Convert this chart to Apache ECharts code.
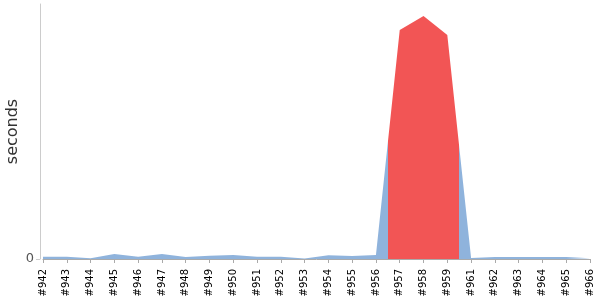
<!DOCTYPE html>
<html><head><meta charset="utf-8">
<script src="https://cdn.jsdelivr.net/npm/echarts@6/dist/echarts.min.js"></script>
<style>html,body{margin:0;padding:0;background:#fff}#c{width:600px;height:300px}</style>
</head><body><div id="c"></div>
<script>
const categories = ['#942','#943','#944','#945','#946','#947','#948','#949','#950','#951','#952','#953','#954','#955','#956','#957','#958','#959','#961','#962','#963','#964','#965','#966'];
const seconds = [0.9,0.9,0.3,2.0,0.9,2.0,0.8,1.3,1.6,0.9,0.9,0.2,1.5,1.2,1.6,89.8,95.3,87.8,0.4,0.8,0.8,0.8,0.8,0.3];
const yLabels = [0];
const highlightFrom = 14.5, highlightTo = 17.5;

const blue = '#8fb3dc', red = '#f25555';
const last = categories.length - 1;
const a = highlightFrom / last, b = highlightTo / last;
const areaColor = new echarts.graphic.LinearGradient(0, 0, 1, 0, [
  { offset: 0, color: blue }, { offset: a, color: blue },
  { offset: a, color: red }, { offset: b, color: red },
  { offset: b, color: blue }, { offset: 1, color: blue }
]);

const chart = echarts.init(document.getElementById('c'));
chart.setOption({
  animation: false,
  textStyle: { fontFamily: 'DejaVu Sans' },
  grid: { left: 43, right: 10, top: 4, bottom: 41, outerBoundsMode: 'none', containLabel: false },
  xAxis: {
    type: 'category', boundaryGap: false, data: categories, offset: 3,
    axisLine: { lineStyle: { color: '#aaa' } },
    axisTick: { show: true, length: 4, lineStyle: { color: '#aaa' } },
    axisLabel: { rotate: 90, interval: 0, fontSize: 10, color: '#000', margin: 7 }
  },
  yAxis: {
    type: 'value', min: 0, max: 100, offset: 3,
    name: 'seconds', nameLocation: 'middle', nameGap: 19, nameMoveOverlap: false,
    nameTextStyle: { fontSize: 16, color: '#333' },
    splitLine: { show: false },
    axisLine: { show: true, lineStyle: { color: '#ccc' } },
    axisTick: { show: true, length: 4, customValues: yLabels, lineStyle: { color: '#ccc' } },
    axisLabel: { customValues: yLabels, fontSize: 13, color: '#555', margin: 6 }
  },
  series: [{
    type: 'line', data: seconds, showSymbol: false, smooth: false,
    lineStyle: { width: 0 },
    itemStyle: { color: blue },
    areaStyle: { opacity: 1, color: areaColor }
  }]
});
</script></body></html>
